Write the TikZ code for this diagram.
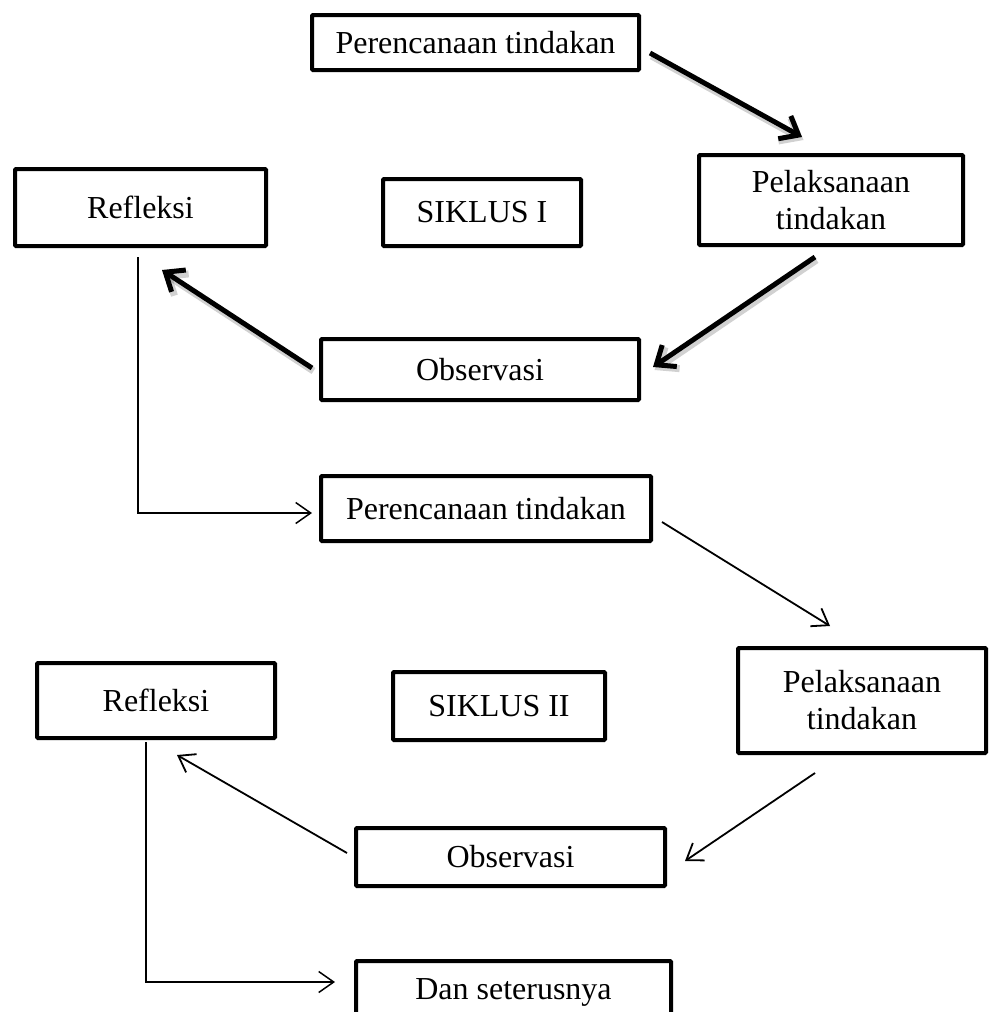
\documentclass[tikz,border=0pt]{standalone}
\usepackage{fontspec}
\setmainfont{Liberation Serif}
\usetikzlibrary{arrows.meta}
\begin{document}
\begin{tikzpicture}[x=1pt,y=-1pt,
  box/.style={draw, line width=4pt, font=\fontsize{32}{37}\selectfont, align=center, inner sep=0pt, rounded corners=1pt},
  thickarr/.style={line width=5pt, -{Straight Barb[length=16pt,width=26pt]}},
  arrshadow/.style={thickarr, draw=black, opacity=0.18, line width=7pt, transform canvas={shift={(1.5,3)}}},
  thinarr/.style={line width=1.8pt, -{Straight Barb[length=15pt,width=21pt]}},
  elbow/.style={line width=1.5pt, -{Straight Barb[length=15pt,width=21pt]}}]
\useasboundingbox (0,0) rectangle (989,1012);
\clip (0,0) rectangle (989,1012);
% Cycle I
\node[box, minimum width=327pt, minimum height=55pt] (p1) at (475.5,42.5) {Perencanaan tindakan};
\node[box, minimum width=264pt, minimum height=90pt] (l1) at (831,200) {Pelaksanaan\\tindakan};
\node[box, minimum width=251pt, minimum height=77pt] (r1) at (140.5,207.5) {Refleksi};
\node[box, minimum width=198pt, minimum height=67pt] (s1) at (482,212.5) {SIKLUS I};
\node[box, minimum width=318pt, minimum height=61pt] (o1) at (480,369.5) {Observasi};
% Cycle II
\node[box, minimum width=330pt, minimum height=65pt] (p2) at (486,508.5) {Perencanaan tindakan};
\node[box, minimum width=248pt, minimum height=105pt] (l2) at (862,700.5) {Pelaksanaan\\tindakan};
\node[box, minimum width=238pt, minimum height=75pt] (r2) at (156,700.5) {Refleksi};
\node[box, minimum width=212pt, minimum height=68pt] (s2) at (499,706) {SIKLUS II};
\node[box, minimum width=309pt, minimum height=58pt] (o2) at (510.5,857) {Observasi};
\node[box, minimum width=315pt, minimum height=62pt] (dan) at (513.5,992) {Dan seterusnya};
% connector ends
\coordinate (a1s) at (650,53);  \coordinate (a1e) at (802,137);
\coordinate (a2s) at (815,257); \coordinate (a2e) at (653,367);
\coordinate (a3s) at (312,368); \coordinate (a3e) at (162,270);
\coordinate (e1s) at (138,257); \coordinate (e1e) at (312,513);
\coordinate (a4s) at (662,522); \coordinate (a4e) at (830,626);
\coordinate (a5s) at (815,773); \coordinate (a5e) at (685,861);
\coordinate (a6s) at (347,853); \coordinate (a6e) at (177,755);
\coordinate (e2s) at (146,742); \coordinate (e2e) at (335,982);
% connectors (cycle I, with soft shadow)
\draw[arrshadow] (a1s) -- (a1e);
\draw[arrshadow] (a2s) -- (a2e);
\draw[arrshadow] (a3s) -- (a3e);
\draw[thickarr] (a1s) -- (a1e);
\draw[thickarr] (a2s) -- (a2e);
\draw[thickarr] (a3s) -- (a3e);
\draw[elbow] (e1s) |- (e1e);
% connectors (cycle II)
\draw[thinarr] (a4s) -- (a4e);
\draw[thinarr] (a5s) -- (a5e);
\draw[thinarr] (a6s) -- (a6e);
\draw[elbow] (e2s) |- (e2e);
\end{tikzpicture}
\end{document}
